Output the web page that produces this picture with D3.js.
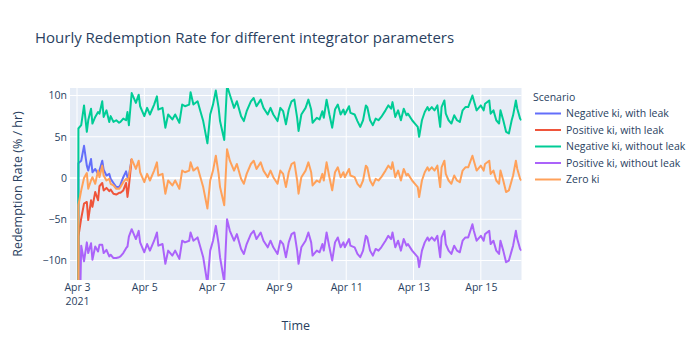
<!DOCTYPE html>
<html><head><meta charset="utf-8">
<script src="https://cdn.jsdelivr.net/npm/d3@7"></script>
<style>body{margin:0;background:#fff;} svg{font-family:"Open Sans",verdana,arial,sans-serif;}</style>
</head><body><svg id="c" width="700" height="350"></svg>
<script>
// hours since 2021-04-03 00:00
const hours = [-5,1,3,5,7,8,10,11,13,15,16,18,19,21,23,24,26,28,30,31,33,35,36,37,
39,42,44,45,48,50,52,55,57,58,61,63,65,68,70,73,75,77,80,81,83,86,88,90,93,95,97,99,101,102,
105,107,109,112,114,117,119,121,124,126,128,131,133,136,138,140,143,145,147,149,151,153,155,157,158,160,
163,165,167,168,171,173,175,176,178,180,182,184,186,188,190,191,194,195,198,200,202,204,206,207,
209,211,213,215,217,220,222,224,225,227,229,231,233,235,236,239,241,243,244,246,248,250,251,253,255,257,
259,260,262,263,265,267,269,271,273,275,277,279,282,283,285,288,290,291,294,295,297,299,301,302,
304,306,308,310,311,313,314,316,317];

const negKiWithLeak = [-2000,1.8,2.1,3.9,1.5,0.9,2.3,0.7,1.1,0.5,0.9,2.1,1.0,0.3,0.5,-0.1,-0.6,-1.1,-1.1,-0.8,0.1,0.8,0.1,0.3,2.3];
const posKiWithLeak = [-2000,-7.1,-4.9,-3.1,-2.9,-5.1,-2.7,-3.5,-1.7,-2.7,-1.0,-0.6,-1.5,-1.2,-1.6,-1.4,-1.9,-2.0,-1.8,-1.8,-1.5,-0.6,-2.3,-1.0,2.3];
const negKiNoLeak = [-2000,6.0,6.4,8.8,5.6,7.0,8.4,6.6,7.4,8.0,7.8,9.3,7.4,8.2,6.8,7.5,6.8,7.0,6.7,6.8,7.2,7.0,8.0,6.4,
10.3,9.1,10.1,8.7,7.5,8.5,7.7,8.9,9.9,8.3,8.5,6.1,7.7,7.1,7.7,6.7,8.9,8.7,8.9,10.4,8.9,9.3,8.1,6.9,4.2,7.7,8.9,10.6,8.5,6.9,
4.6,11.2,10.1,8.5,9.3,7.5,6.9,8.1,9.3,9.7,8.7,9.5,8.5,7.7,8.5,7.7,6.9,8.5,8.1,6.5,8.3,9.3,9.5,7.3,5.7,7.7,
8.5,9.5,8.3,6.7,7.3,7.1,8.1,7.3,9.5,7.7,6.1,8.3,8.9,7.7,8.3,7.7,8.7,7.9,7.7,6.9,6.2,7.0,8.8,8.6,
7.0,6.4,7.2,7.0,7.4,8.2,8.8,8.4,9.2,7.4,8.2,7.0,8.4,7.6,7.8,7.0,6.6,6.2,5.0,7.0,8.0,8.6,8.2,8.6,8.2,8.8,
6.2,8.6,9.4,7.8,7.0,6.6,7.6,7.0,6.8,8.2,8.6,8.6,10.0,9.4,8.2,8.8,8.2,9.0,9.4,7.8,8.2,7.0,6.6,8.2,
7.0,5.6,5.4,7.0,7.6,9.4,8.4,7.2,7.0];
const posKiNoLeak = [-2000,-25,-8.2,-10.1,-7.8,-9.1,-7.9,-9.9,-8.3,-8.9,-8.1,-8.1,-9.1,-8.7,-9.5,-9.3,-9.7,-9.7,-9.6,-9.5,-9.1,-8.5,-8.3,-7.1,
-6.2,-7.4,-6.4,-7.8,-9.0,-8.0,-8.8,-7.6,-6.6,-8.2,-8.0,-10.4,-8.8,-9.4,-8.8,-9.8,-7.6,-7.8,-7.6,-6.6,-7.6,-7.2,-8.4,-9.6,-12.8,-8.8,-7.6,-5.8,-8.0,-9.6,
-12.6,-5.0,-6.4,-7.6,-6.8,-8.6,-9.2,-8.0,-6.8,-6.4,-7.4,-6.6,-7.6,-8.4,-7.6,-8.4,-9.2,-7.6,-8.0,-9.6,-7.8,-6.8,-6.6,-8.8,-10.4,-8.4,
-7.6,-6.6,-7.8,-9.4,-8.8,-9.0,-8.0,-8.8,-6.6,-8.4,-10.0,-7.8,-7.2,-8.4,-7.8,-8.4,-7.4,-8.2,-8.4,-9.2,-9.6,-8.8,-7.0,-7.2,
-8.8,-9.4,-8.6,-8.8,-8.4,-7.6,-7.0,-7.4,-6.6,-8.4,-7.6,-8.8,-7.4,-8.2,-8.0,-8.8,-9.2,-9.6,-10.8,-8.8,-7.8,-7.2,-7.6,-7.2,-7.6,-7.0,
-9.6,-7.2,-6.4,-8.0,-8.8,-9.2,-8.2,-8.8,-9.0,-7.6,-7.2,-7.2,-5.6,-6.4,-7.6,-7.0,-7.6,-6.8,-6.4,-8.0,-7.6,-8.8,-9.2,-7.6,
-8.8,-10.2,-10.0,-8.8,-8.2,-6.4,-7.4,-8.6,-8.8];
const zeroKi = [-2000,-3.3,-1.5,0.0,0.6,-1.3,-0.3,0.1,-0.7,0.9,0.1,1.5,0.3,-0.3,-0.1,-0.7,-0.9,-1.3,-1.3,-1.1,-0.5,-0.1,-0.3,0.1,
2.3,1.1,2.1,0.7,-0.5,0.5,-0.3,0.9,1.9,0.3,0.5,-1.9,-0.3,-0.9,-0.3,-1.3,0.9,0.7,0.9,1.9,0.9,1.3,0.1,-1.1,-3.7,-0.3,0.9,2.7,0.5,-1.1,
-3.3,3.5,2.1,0.9,1.7,-0.1,-0.7,0.5,1.7,2.1,1.1,1.9,0.9,0.1,0.9,0.1,-0.7,0.9,0.5,-1.1,0.7,1.7,1.9,-0.3,-1.9,0.1,
0.9,1.9,0.7,-0.9,-0.3,-0.5,0.5,-0.3,1.9,0.1,-1.5,0.7,1.3,0.1,0.7,0.1,1.1,0.3,0.1,-0.7,-1.1,-0.3,1.5,1.3,
-0.3,-0.9,-0.1,-0.3,0.1,0.9,1.5,1.1,1.9,0.1,0.9,-0.3,1.1,0.3,0.5,-0.3,-0.7,-1.1,-2.3,-0.3,0.7,1.3,0.9,1.3,0.9,1.5,
-1.1,1.3,2.1,0.5,-0.3,-0.7,0.3,-0.3,-0.5,0.9,1.3,1.3,2.7,2.1,0.9,1.5,0.9,1.7,2.1,0.5,0.9,-0.3,-0.7,0.9,
-0.3,-1.7,-1.5,-0.3,0.3,2.1,1.1,-0.1,-0.3];

const seriesNames = ["Negative ki, with leak","Positive ki, with leak","Negative ki, without leak","Positive ki, without leak","Zero ki"];
const seriesValues = [negKiWithLeak, posKiWithLeak, negKiNoLeak, posKiNoLeak, zeroKi];
const seriesColors = ["#636efa","#EF553B","#00cc96","#ab63fa","#FFA15A"];
const xTickDays = [3,5,7,9,11,13,15];
const xTickLabels = ["Apr 3","Apr 5","Apr 7","Apr 9","Apr 11","Apr 13","Apr 15"];
const yTickValues = [-10,-5,0,5,10];
const yTickLabels = ["\u221210n","\u22125n","0","5n","10n"];

const T0 = Date.UTC(2021,3,3);
const toDate = h => new Date(T0 + h*3600e3);

const svg = d3.select("#c");
const L=70, R=521.5, TOP=88, B=280;
const x = d3.scaleUtc().domain([toDate(-5), toDate(317)]).range([L,R]);
const y = d3.scaleLinear().domain([-12.36,10.91]).range([B,TOP]);
const ink = "#2a3f5f";
const FONT = "'Open Sans',verdana,arial,sans-serif";
const TICK_FS = 10.5;

svg.append("rect").attr("x",L).attr("y",TOP).attr("width",R-L).attr("height",B-TOP).attr("fill","#E5ECF6");

// grid
const xTicks = xTickDays.map(d => new Date(Date.UTC(2021,3,d)));
svg.append("g").selectAll("line").data(xTicks).join("line")
  .attr("x1",d=>x(d)).attr("x2",d=>x(d)).attr("y1",TOP).attr("y2",B)
  .attr("stroke","#fff").attr("stroke-width",1);
svg.append("g").selectAll("line").data(yTickValues).join("line")
  .attr("x1",L).attr("x2",R).attr("y1",d=>y(d)).attr("y2",d=>y(d))
  .attr("stroke","#fff").attr("stroke-width",d=>d===0?2:1);

// axes
const yAxis = d3.axisLeft(y).tickValues(yTickValues).tickFormat((d,i)=>yTickLabels[i]).tickSize(0).tickPadding(3);
const gy = svg.append("g").attr("transform",`translate(${L},0)`).call(yAxis);
gy.select(".domain").remove();
gy.selectAll("text").attr("fill",ink).attr("font-size",TICK_FS).attr("font-family",FONT);

const xAxis = d3.axisBottom(x).tickValues(xTicks).tickFormat((d,i)=>xTickLabels[i]).tickSize(0).tickPadding(3.5);
const gx = svg.append("g").attr("transform",`translate(0,${B})`).call(xAxis);
gx.select(".domain").remove();
gx.selectAll("text").attr("fill",ink).attr("font-size",TICK_FS).attr("font-family",FONT);
gx.selectAll(".tick").filter((d,i)=>i===0).append("text")
  .attr("y",18).attr("dy","0.71em").attr("text-anchor","middle").attr("fill",ink)
  .attr("font-size",TICK_FS).attr("font-family",FONT).text("2021");

// lines
svg.append("clipPath").attr("id","clip").append("rect").attr("x",L).attr("y",TOP).attr("width",R-L).attr("height",B-TOP);
const line = d3.line().defined(d=>d[1]!=null).x(d=>x(toDate(d[0]))).y(d=>y(d[1]));
const gl = svg.append("g").attr("clip-path","url(#clip)");
seriesValues.forEach((vals,i)=>{
  const pts = vals.map((v,j)=>[hours[j],v]);
  gl.append("path").datum(pts).attr("d",line).attr("fill","none")
    .attr("stroke",seriesColors[i]).attr("stroke-width",2).attr("stroke-linejoin","round");
});

// titles
svg.append("text").attr("x",35).attr("y",43).attr("fill",ink).attr("font-size",15)
  .text("Hourly Redemption Rate for different integrator parameters");
svg.append("text").attr("x",(L+R)/2).attr("y",330).attr("text-anchor","middle").attr("fill",ink).attr("font-size",12.5).text("Time");
svg.append("text").attr("transform",`translate(22,${(TOP+B)/2}) rotate(-90)`).attr("text-anchor","middle")
  .attr("fill",ink).attr("font-size",12.5).text("Redemption Rate (% / hr)");

// legend
const lg = svg.append("g");
lg.append("text").attr("x",533).attr("y",101).attr("fill",ink).attr("font-size",TICK_FS).text("Scenario");
seriesNames.forEach((n,i)=>{
  const yy = 113.5 + i*16.5;
  lg.append("line").attr("x1",535).attr("x2",561).attr("y1",yy).attr("y2",yy).attr("stroke",seriesColors[i]).attr("stroke-width",2);
  lg.append("text").attr("x",566).attr("y",yy+3.7).attr("fill",ink).attr("font-size",TICK_FS).text(n);
});
</script></body></html>
